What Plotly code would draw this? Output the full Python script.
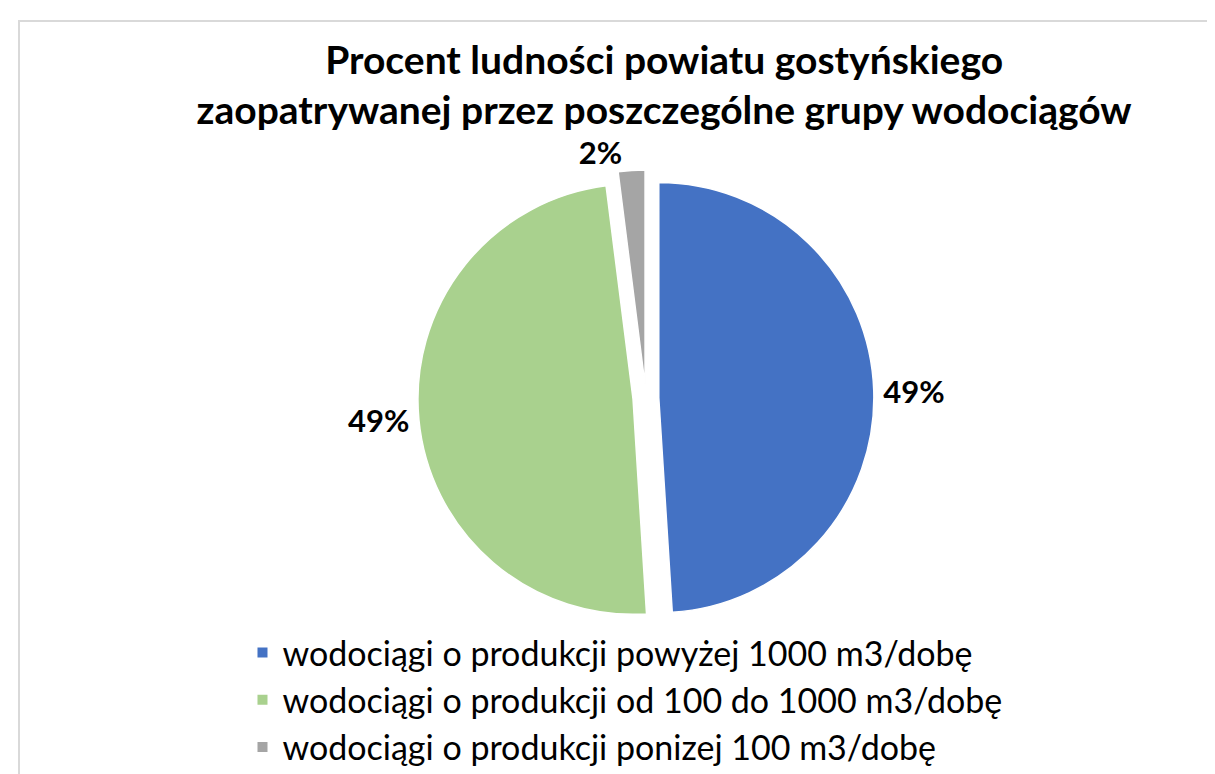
import plotly.graph_objects as go

categories = [
    "wodociągi o produkcji powyżej 1000 m3/dobę",
    "wodociągi o produkcji od 100 do 1000 m3/dobę",
    "wodociągi o produkcji ponizej 100 m3/dobę",
]
values = [49, 49, 2]
colors = ["#4472C4", "#A9D18E", "#A5A5A5"]
title_text = "Procent ludności powiatu gostyńskiego<br>zaopatrywanej przez poszczególne grupy wodociągów"

W, H = 1215, 774


def fy(pix):
    # pixel row from top -> paper fraction (margins are zero)
    return 1 - pix / H


fig = go.Figure(
    go.Pie(
        labels=categories,
        values=values,
        sort=False,
        direction="clockwise",
        rotation=0,
        pull=[0.06, 0.06, 0.06],
        domain=dict(x=[0.05, 1.0], y=[fy(618), fy(162)]),
        marker=dict(colors=colors, line=dict(color="white", width=1.5)),
        texttemplate="%{percent:.0%}",
        textposition="outside",
        textfont=dict(family="Lato", size=31, color="black", weight="bold"),
        showlegend=True,
    )
)

fig.update_layout(
    width=W,
    height=H,
    paper_bgcolor="white",
    plot_bgcolor="white",
    margin=dict(l=0, r=0, t=0, b=0, autoexpand=False),
    title=dict(
        text=title_text,
        x=0.54,
        xanchor="center",
        xref="container",
        y=0.915,
        yanchor="top",
        yref="container",
        font=dict(family="Lato", size=39, color="black", weight="bold"),
    ),
    legend=dict(
        orientation="v",
        x=0.193,
        xanchor="left",
        y=fy(768),
        yanchor="bottom",
        font=dict(family="Lato", size=34, color="black"),
        itemsizing="constant",
        tracegroupgap=0,
    ),
    shapes=[
        dict(
            type="rect", xref="paper", yref="paper",
            x0=11 / W, x1=1225 / W, y0=fy(790), y1=fy(13),
            line=dict(color="#D9D9D9", width=2),
        )
    ],
)

fig.write_html("out.html")
